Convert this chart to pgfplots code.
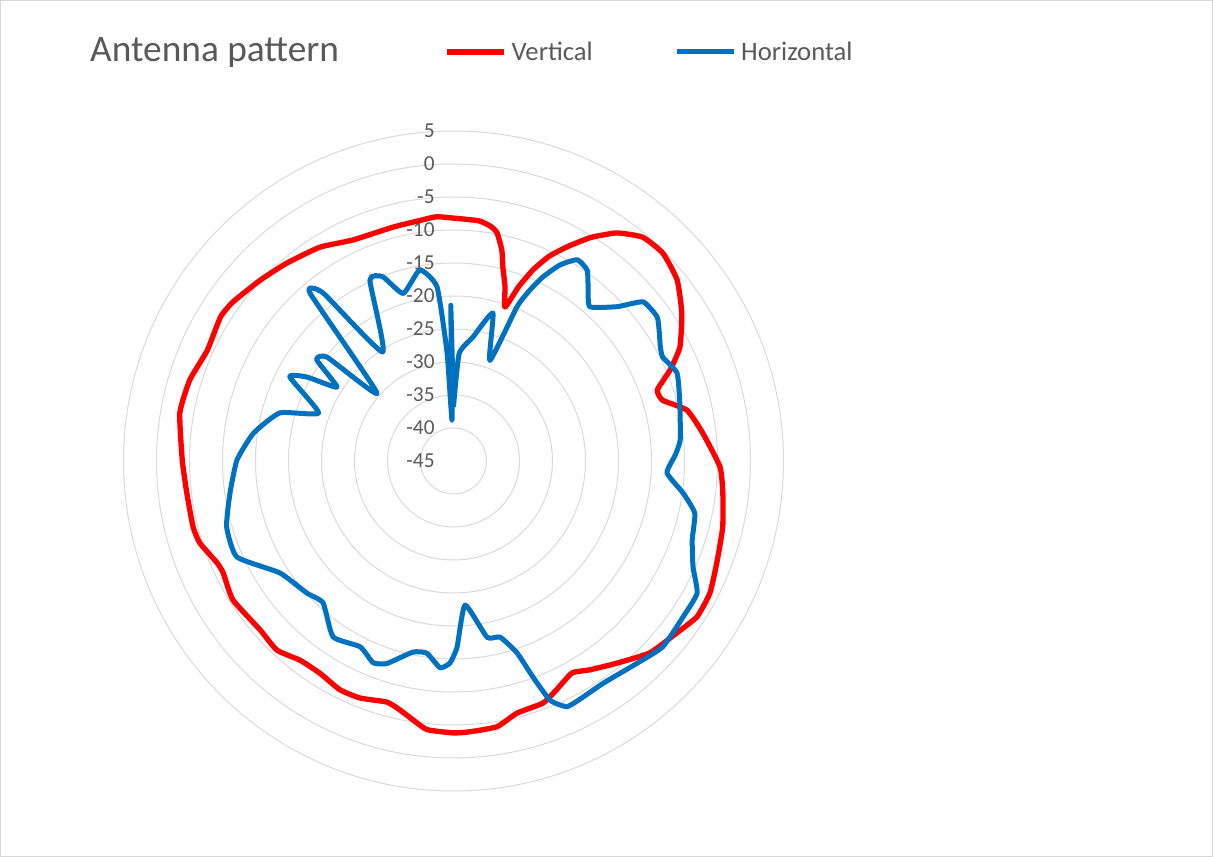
\documentclass[border=0pt]{standalone}
\usepackage{fontspec}
\setmainfont{Carlito}
\usepackage{pgfplots}
\pgfplotsset{compat=1.18}
\usepgfplotslibrary{polar}
\definecolor{vred}{HTML}{FF0000}
\definecolor{hblue}{HTML}{0070C0}
\definecolor{ringgray}{HTML}{D9D9D9}
\definecolor{txtgray}{HTML}{595959}
\begin{document}
\begin{tikzpicture}
\draw[ringgray, line width=0.75pt] (0.375pt,0.375pt) rectangle (909.375pt,642.375pt);
\begin{polaraxis}[
  scale only axis, width=495pt, height=495pt,
  at={(340.125pt,297pt)}, anchor=center,
  xmin=90, xmax=450, ymin=0, ymax=50,
  xtick=\empty, ytick={0,5,...,50},
  yticklabels={-45,-40,-35,-30,-25,-20,-15,-10,-5,0,5},
  ymajorgrids, grid style={ringgray, line width=0.75pt},
  axis line style={draw=none},
  major tick length=0pt,
  yticklabel style={font=\fontsize{16}{16}\selectfont, text=txtgray, anchor=east, inner sep=0pt, xshift=-14pt},
  x filter/.expression={450-x}, y filter/.expression={y+45},
  clip=false,
  title={Antenna pattern},
  title style={at={(-0.0508,1.0758)}, anchor=base west, font=\fontsize{28}{28}\selectfont, text=txtgray, inner sep=0pt},
  legend columns=2,
  legend style={at={(0.4857,1.1197)}, anchor=west, draw=none, fill=none, inner sep=0pt,
    font=\fontsize{20}{20}\selectfont, text=txtgray, nodes={inner sep=0pt},
    /tikz/every odd column/.append style={column sep=3.5pt},
    /tikz/every even column/.append style={column sep=61pt}},
  legend image code/.code={\draw[#1] (0pt,0pt) -- (43pt,0pt);},
]
\addplot[vred, line width=4pt, line join=round, smooth, tension=0.3] table {
0 -8.2
6 -8.4
9 -9.0
10.8 -9.8
12.9 -12.2
14.3 -14.7
16.5 -17.5
18.5 -20.4
20.5 -16.8
22.6 -13.6
25 -10.8
27.9 -8.3
31.5 -5.3
35.6 -2.5
40.2 -0.6
45.2 -0.3
51 -1.4
57.1 -3.8
63.3 -6.6
67.2 -9.4
70.8 -12.3
73.8 -12.0
77.7 -8.8
83.6 -7.0
91.3 -4.6
96.8 -3.9
103.8 -3.0
110.6 -2.3
117.2 -1.3
122.6 -1.2
127.6 -2.3
134.3 -3.4
141 -5.6
146.8 -7.2
150.8 -8.2
155.7 -7.0
159.7 -5.9
165.9 -5.6
170.7 -4.2
176.5 -3.9
180 -3.8
185.6 -4.1
188.9 -5.3
192.1 -6.4
195.4 -7.1
201.5 -6.4
206.4 -6.3
212.2 -7.0
217.6 -6.9
223 -5.8
228.9 -6.1
237.8 -5.5
244 -6.2
246.7 -6.0
252.1 -4.6
255.8 -4.3
263.2 -4.3
270.2 -3.9
280 -2.9
287.1 -3.2
294.2 -4.1
301.7 -3.5
305.8 -3.8
313.1 -4.9
319.9 -5.8
328 -6.8
335.5 -8.2
345.5 -8.4
352.1 -8.2
356 -7.9
360 -8.2
};
\addlegendentry{Vertical}
\addplot[hblue, line width=3.75pt, line join=round, smooth, tension=0.3] table {
0 -36.8
3 -28.7
8.9 -26.0
14.9 -21.8
19.9 -28.8
22.4 -19.7
24.1 -16.6
25.9 -14.0
28.5 -11.2
31.6 -9.2
35 -9.7
38.2 -12.0
41.5 -13.8
46.7 -10.9
50 -7.5
54.7 -7.2
57.9 -8.2
61.1 -9.2
63.6 -9.6
68.5 -8.6
75.6 -9.6
84.7 -10.5
88.5 -11.4
93.2 -12.6
97.9 -9.9
102.2 -7.6
108.3 -6.9
113.9 -5.3
118.5 -3.0
124.2 -2.95
131.6 -2.6
137.7 -3.6
146 -4.4
151.2 -4.2
155.2 -4.0
158 -5.9
159.8 -10.1
161.7 -14.4
165.2 -17.4
169.2 -17.8
175.4 -23.1
178.9 -16.8
181 -14.4
183.7 -13.6
187.9 -15.6
192 -15.4
198.2 -12.7
201.7 -12.1
206.7 -13.5
214.4 -12.7
222.6 -15.8
228 -15.1
237.2 -13.7
246.1 -9.1
253.8 -9.2
261.9 -10.8
270.3 -12.2
277.9 -14.4
285.5 -17.7
289.6 -23.3
297.2 -17.1
299.8 -19.4
302.4 -24.1
306.5 -19.2
309.4 -20.2
311.6 -29.5
319.5 -11.5
322.2 -12.8
327 -25.3
335.2 -14.8
339 -15.1
343.3 -18.5
350 -15.6
354.6 -18.5
356.6 -28.6
358 -38.8
359 -21.4
360 -36.8
};
\addlegendentry{Horizontal}
\end{polaraxis}
\pgfresetboundingbox
\useasboundingbox (0,0) rectangle (909.75pt,642.75pt);
\end{tikzpicture}
\end{document}
